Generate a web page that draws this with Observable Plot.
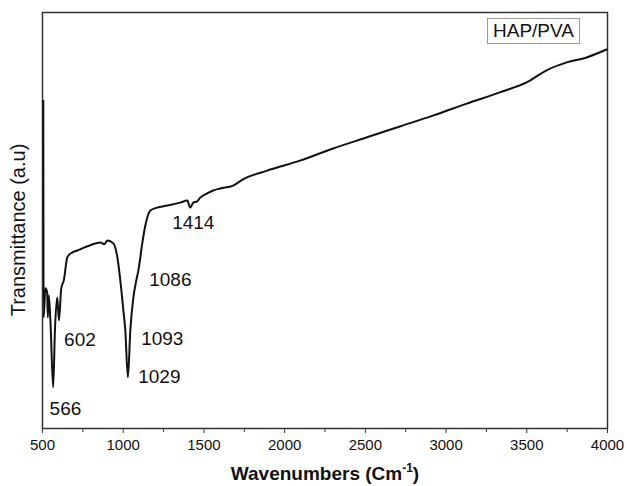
<!DOCTYPE html>
<html>
<head>
<meta charset="utf-8">
<script src="https://cdn.jsdelivr.net/npm/d3@7"></script>
<script src="https://cdn.jsdelivr.net/npm/@observablehq/plot@0.6"></script>
<style>
  html, body { margin: 0; padding: 0; background: #fff; }
  #wrap { position: relative; width: 627px; height: 486px; font-family: Arial, "Liberation Sans", sans-serif; }
  #legend { position: absolute; left: 487px; top: 18px; width: 91px; height: 24px; border: 1px solid #9a9a9a;
            font-size: 19px; line-height: 24px; text-align: center; color: #111; background: #fff; }
</style>
</head>
<body>
<div id="wrap"><div id="legend">HAP/PVA</div></div>
<script>
// Spectrum: wavenumber (cm^-1) and transmittance (a.u., 0–100 scale)
const wavenumber = [505, 507, 518, 529, 533, 539, 549, 566, 577, 591, 602, 616, 632, 653, 661, 684, 716, 778, 859, 883, 902, 939, 964, 982, 1001, 1013, 1029, 1044, 1063, 1081, 1094, 1118, 1131, 1137, 1149, 1168, 1210, 1273, 1353, 1397, 1415, 1434, 1458, 1477, 1520, 1557, 1601, 1681, 1743, 1891, 2095, 2300, 2510, 2714, 2918, 3128, 3332, 3499, 3623, 3747, 3870, 3994];
const transmittance = [78.8, 26.7, 33.7, 32.7, 26.7, 32.0, 26.0, 9.9, 23.6, 31.5, 26.0, 33.7, 35.6, 41.1, 41.6, 42.3, 42.8, 43.8, 44.7, 44.3, 45.2, 44.5, 41.1, 35.6, 28.4, 23.6, 12.3, 23.6, 31.5, 35.6, 38.0, 44.5, 47.6, 48.8, 50.7, 52.4, 53.1, 53.6, 54.3, 54.8, 53.1, 54.3, 54.6, 55.5, 56.5, 57.2, 57.7, 58.4, 59.9, 62.0, 64.4, 67.3, 70.0, 72.6, 75.2, 78.1, 80.8, 83.2, 86.1, 88.0, 89.2, 91.1];

// Peak annotations
const peakLabels = ["566", "602", "1029", "1093", "1086", "1414"];
const peakLabelX = [642, 732, 1224, 1242, 1292, 1434];
const peakLabelY = [4.6, 21.2, 12.3, 21.6, 35.6, 49.5];

const majorTicks = [500, 1000, 1500, 2000, 2500, 3000, 3500, 4000];
const minorTicks = [750, 1250, 1750, 2250, 2750, 3250, 3750];

const spectrum = wavenumber.map((w, i) => ({w, t: transmittance[i]}));
const peaks = peakLabels.map((s, i) => ({s, x: peakLabelX[i], y: peakLabelY[i]}));

const chart = Plot.plot({
  width: 627,
  height: 486,
  marginLeft: 42,
  marginRight: 20,
  marginTop: 12,
  marginBottom: 58,
  style: {fontFamily: "Arial, 'Liberation Sans', sans-serif", fontSize: "15px", color: "#111", background: "#fff"},
  x: {domain: [500, 4000]},
  y: {domain: [0, 100], axis: null},
  marks: [
    Plot.frame({stroke: "#333", strokeWidth: 1.5}),
    Plot.axisX({ticks: majorTicks, tickSize: 5, tickPadding: 6, tickFormat: d => String(d), fontSize: 15, stroke: "#333", label: null}),
    Plot.axisX({ticks: minorTicks, tickSize: 4, text: null, stroke: "#333", label: null}),
    Plot.line(spectrum, {x: "w", y: "t", stroke: "#111", strokeWidth: 2, strokeLinejoin: "round", curve: "monotone-x"}),
    Plot.text(peaks, {x: "x", y: "y", text: "s", fontSize: 19, fill: "#111"})
  ]
});

document.getElementById("wrap").prepend(chart);

// axis titles as real text inside the svg
const svg = d3.select(chart);
svg.append("text")
  .attr("x", 325).attr("y", 480)
  .attr("text-anchor", "middle")
  .attr("font-size", 19).attr("font-weight", "bold").attr("fill", "#111")
  .call(t => {
    t.append("tspan").text("Wavenumbers (Cm");
    t.append("tspan").attr("font-size", 12).attr("dy", -8).text("-1");
    t.append("tspan").attr("dy", 8).text(")");
  });
svg.append("text")
  .attr("transform", "translate(25,230) rotate(-90)")
  .attr("text-anchor", "middle")
  .attr("font-size", 20).attr("fill", "#111")
  .text("Transmittance (a.u)");
</script>
</body>
</html>
